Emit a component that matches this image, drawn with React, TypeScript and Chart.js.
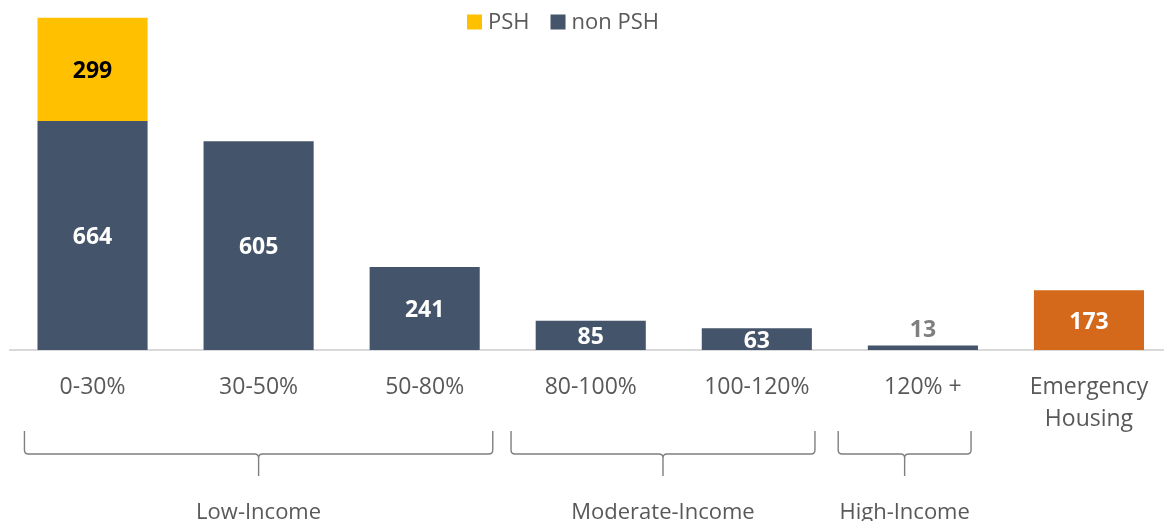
import React, { useEffect, useRef } from "react";
import { Chart, registerables } from "chart.js";

Chart.register(...registerables);

const categories: (string | string[])[] = [
  "0-30%",
  "30-50%",
  "50-80%",
  "80-100%",
  "100-120%",
  "120% +",
  ["Emergency", "Housing"],
];
const pshValues: (number | null)[] = [299, null, null, null, null, null, null];
const nonPshValues: number[] = [664, 605, 241, 85, 63, 13, 173];
const nonPshColors: string[] = [
  "#44546A",
  "#44546A",
  "#44546A",
  "#44546A",
  "#44546A",
  "#44546A",
  "#D4691C",
];
const legendLabels: string[] = ["PSH", "non PSH"];
const legendColors: string[] = ["#FFC000", "#44546A"];
const groupLabels: string[] = ["Low-Income", "Moderate-Income", "High-Income"];
const groupStarts: number[] = [-0.41, 2.52, 4.49];
const groupEnds: number[] = [2.41, 4.35, 5.29];

const FONT = "'Open Sans', 'Noto Sans', sans-serif";

const valueLabelPlugin = {
  id: "valueLabels",
  afterDatasetsDraw(chart: any) {
    const ctx = chart.ctx;
    ctx.save();
    ctx.font = `bold 23px ${FONT}`;
    ctx.textAlign = "center";
    ctx.textBaseline = "middle";
    chart.data.datasets.forEach((ds: any, di: number) => {
      const meta = chart.getDatasetMeta(di);
      meta.data.forEach((el: any, i: number) => {
        const v = ds.data[i];
        if (v === null || v === undefined) return;
        const top = Math.min(el.y, el.base);
        const h = Math.abs(el.base - el.y);
        let y = top + h / 2;
        let color = di === 1 ? "#000000" : "#FFFFFF";
        if (h < 16) {
          y = top - 17;
          color = "#7F7F7F";
        }
        ctx.fillStyle = color;
        ctx.fillText(String(v), el.x, y + 2);
      });
    });
    ctx.restore();
  },
};

const legendPlugin = {
  id: "customLegend",
  afterDraw(chart: any) {
    const ctx = chart.ctx;
    ctx.save();
    ctx.font = `22px ${FONT}`;
    ctx.textBaseline = "middle";
    ctx.textAlign = "left";
    const box = 15;
    const gap = 6;
    const itemGap = 21;
    const widths = legendLabels.map((l) => ctx.measureText(l).width);
    let x = chart.width / 2 - 119;
    const cy = 22;
    legendLabels.forEach((l, i) => {
      ctx.fillStyle = legendColors[i];
      ctx.fillRect(x, cy - box / 2, box, box);
      x += box + gap;
      ctx.fillStyle = "#595959";
      ctx.fillText(l, x, cy + 1);
      x += widths[i] + itemGap;
    });
    ctx.restore();
  },
};

const bracePlugin = {
  id: "braces",
  afterDraw(chart: any) {
    const ctx = chart.ctx;
    const xs = chart.scales.x;
    const base = chart.chartArea.bottom;
    const yTop = base + 81;
    const yH = base + 104;
    const yBot = base + 126;
    const r = 4;
    ctx.save();
    ctx.strokeStyle = "#7F7F7F";
    ctx.lineWidth = 1.4;
    groupLabels.forEach((label, i) => {
      const x0 = xs.getPixelForValue(groupStarts[i]);
      const x1 = xs.getPixelForValue(groupEnds[i]);
      const xm = (x0 + x1) / 2;
      ctx.beginPath();
      ctx.moveTo(x0, yTop);
      ctx.lineTo(x0, yH - r);
      ctx.quadraticCurveTo(x0, yH, x0 + r, yH);
      ctx.lineTo(xm - r, yH);
      ctx.quadraticCurveTo(xm, yH, xm, yH + r);
      ctx.lineTo(xm, yBot);
      ctx.moveTo(xm, yH + r);
      ctx.quadraticCurveTo(xm, yH, xm + r, yH);
      ctx.lineTo(x1 - r, yH);
      ctx.quadraticCurveTo(x1, yH, x1, yH - r);
      ctx.lineTo(x1, yTop);
      ctx.stroke();
      ctx.font = `22px ${FONT}`;
      ctx.fillStyle = "#595959";
      ctx.textAlign = "center";
      ctx.textBaseline = "middle";
      ctx.fillText(label, xm, base + 163);
    });
    ctx.restore();
  },
};

export default function App() {
  const canvasRef = useRef<HTMLCanvasElement | null>(null);

  useEffect(() => {
    if (!canvasRef.current) return;
    const chart = new Chart(canvasRef.current, {
      type: "bar",
      data: {
        labels: categories as any,
        datasets: [
          {
            label: "non PSH",
            data: nonPshValues,
            backgroundColor: nonPshColors,
            barPercentage: 0.663,
            categoryPercentage: 1,
          },
          {
            label: "PSH",
            data: pshValues,
            backgroundColor: "#FFC000",
            barPercentage: 0.663,
            categoryPercentage: 1,
          },
        ],
      },
      options: {
        animation: false,
        responsive: true,
        maintainAspectRatio: false,
        layout: { padding: { left: 9.5, right: 0, top: 5, bottom: 65 } },
        plugins: {
          legend: { display: false },
          tooltip: { enabled: false },
        },
        scales: {
          x: {
            stacked: true,
            grid: { display: false, drawTicks: false },
            border: { display: true, color: "#D9D9D9", width: 2 },
            ticks: {
              color: "#595959",
              padding: 21,
              maxRotation: 0,
              autoSkip: false,
              font: { family: FONT, size: 23, lineHeight: 1.39 },
            },
          },
          y: {
            stacked: true,
            display: false,
            min: 0,
            max: 1000,
          },
        },
      },
      plugins: [valueLabelPlugin, legendPlugin, bracePlugin],
    });
    return () => chart.destroy();
  }, []);

  return (
    <div
      style={{
        position: "fixed",
        left: 0,
        top: 0,
        width: "1172px",
        height: "521px",
        background: "#FFFFFF",
      }}
    >
      <canvas ref={canvasRef} />
    </div>
  );
}
